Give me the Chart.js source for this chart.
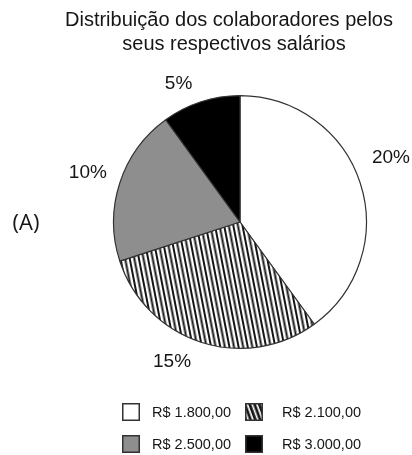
<!DOCTYPE html>
<html>
<head>
<meta charset="utf-8">
<script src="https://cdn.jsdelivr.net/npm/chart.js@4.4.1/dist/chart.umd.min.js"></script>
<style>
  html, body { margin: 0; padding: 0; background: #fff; }
  #wrap { width: 412px; height: 455px; position: relative; }
</style>
</head>
<body>
<div id="wrap"><canvas id="pieChart"></canvas></div>
<script>
const titleLines = ["Distribuição dos colaboradores pelos", "seus respectivos salários"];
const categories = ["R$ 1.800,00", "R$ 2.100,00", "R$ 2.500,00", "R$ 3.000,00"];
const values = [20, 15, 10, 5];
const valueLabels = ["20%", "15%", "10%", "5%"];
const panelTag = "(A)";

// hatch fill: dark lines leaning like "\"
function makeHatch(angle, lineW) {
  const c = document.createElement("canvas");
  c.width = 9;
  c.height = 9;
  const g = c.getContext("2d");
  g.fillStyle = "#fff";
  g.fillRect(0, 0, 9, 9);
  g.fillStyle = "#151515";
  g.fillRect(0.5, 0, lineW, 9);
  g.fillRect(5, 0, lineW, 9);
  const p = g.createPattern(c, "repeat");
  p.setTransform(new DOMMatrix().rotate(angle));
  return p;
}

const ctx = document.getElementById("pieChart").getContext("2d");
const hatch = makeHatch(-11, 2);
const hatchSmall = makeHatch(-20, 2.8);
const fills = ["#ffffff", hatch, "#8e8e8e", "#000000"];
const legendFills = ["#ffffff", hatchSmall, "#8e8e8e", "#000000"];

// label tweaks around each slice (degrees, px from centre)
const labelShift = [-5, 8, 0, -6];
const labelDist = [164, 155, 160, 151];

const textPlugin = {
  id: "textPlugin",
  afterDraw(chart) {
    const c = chart.ctx;
    c.save();
    c.fillStyle = "#161616";
    c.textAlign = "center";
    c.textBaseline = "middle";

    c.font = "20px 'Liberation Sans', Arial, sans-serif";
    c.fillText(titleLines[0], 229, 20);
    c.fillText(titleLines[1], 234, 44);

    const arcs = chart.getDatasetMeta(0).data;
    c.font = "19px 'Liberation Sans', Arial, sans-serif";
    arcs.forEach((arc, i) => {
      const mid = (arc.startAngle + arc.endAngle) / 2 + labelShift[i] * Math.PI / 180;
      c.fillText(valueLabels[i], arc.x + Math.cos(mid) * labelDist[i], arc.y + Math.sin(mid) * labelDist[i]);
    });

    c.font = "22px 'Open Sans', sans-serif";
    c.fillText(panelTag, 26, 224);

    // legend, two columns
    c.font = "14.5px 'Liberation Sans', Arial, sans-serif";
    c.textAlign = "left";
    categories.forEach((name, i) => {
      const x = i % 2 === 0 ? 122 : 245;
      const y = i < 2 ? 403 : 435;
      c.fillStyle = legendFills[i];
      c.fillRect(x, y, 18, 18);
      c.strokeStyle = "#333";
      c.lineWidth = 1.5;
      c.strokeRect(x + 0.75, y + 0.75, 16.5, 16.5);
      c.fillStyle = "#161616";
      c.fillText(name, i % 2 === 0 ? 152 : 282, y + 10);
    });
    c.restore();
  }
};

new Chart(ctx, {
  type: "pie",
  data: {
    labels: categories,
    datasets: [{
      data: values,
      backgroundColor: fills,
      borderColor: "#333333",
      borderWidth: 1.2
    }]
  },
  options: {
    responsive: true,
    maintainAspectRatio: false,
    animation: false,
    layout: { padding: { left: 113, right: 45, top: 95, bottom: 106 } },
    plugins: {
      legend: { display: false },
      title: { display: false },
      tooltip: { enabled: false }
    }
  },
  plugins: [textPlugin]
});
</script>
</body>
</html>
